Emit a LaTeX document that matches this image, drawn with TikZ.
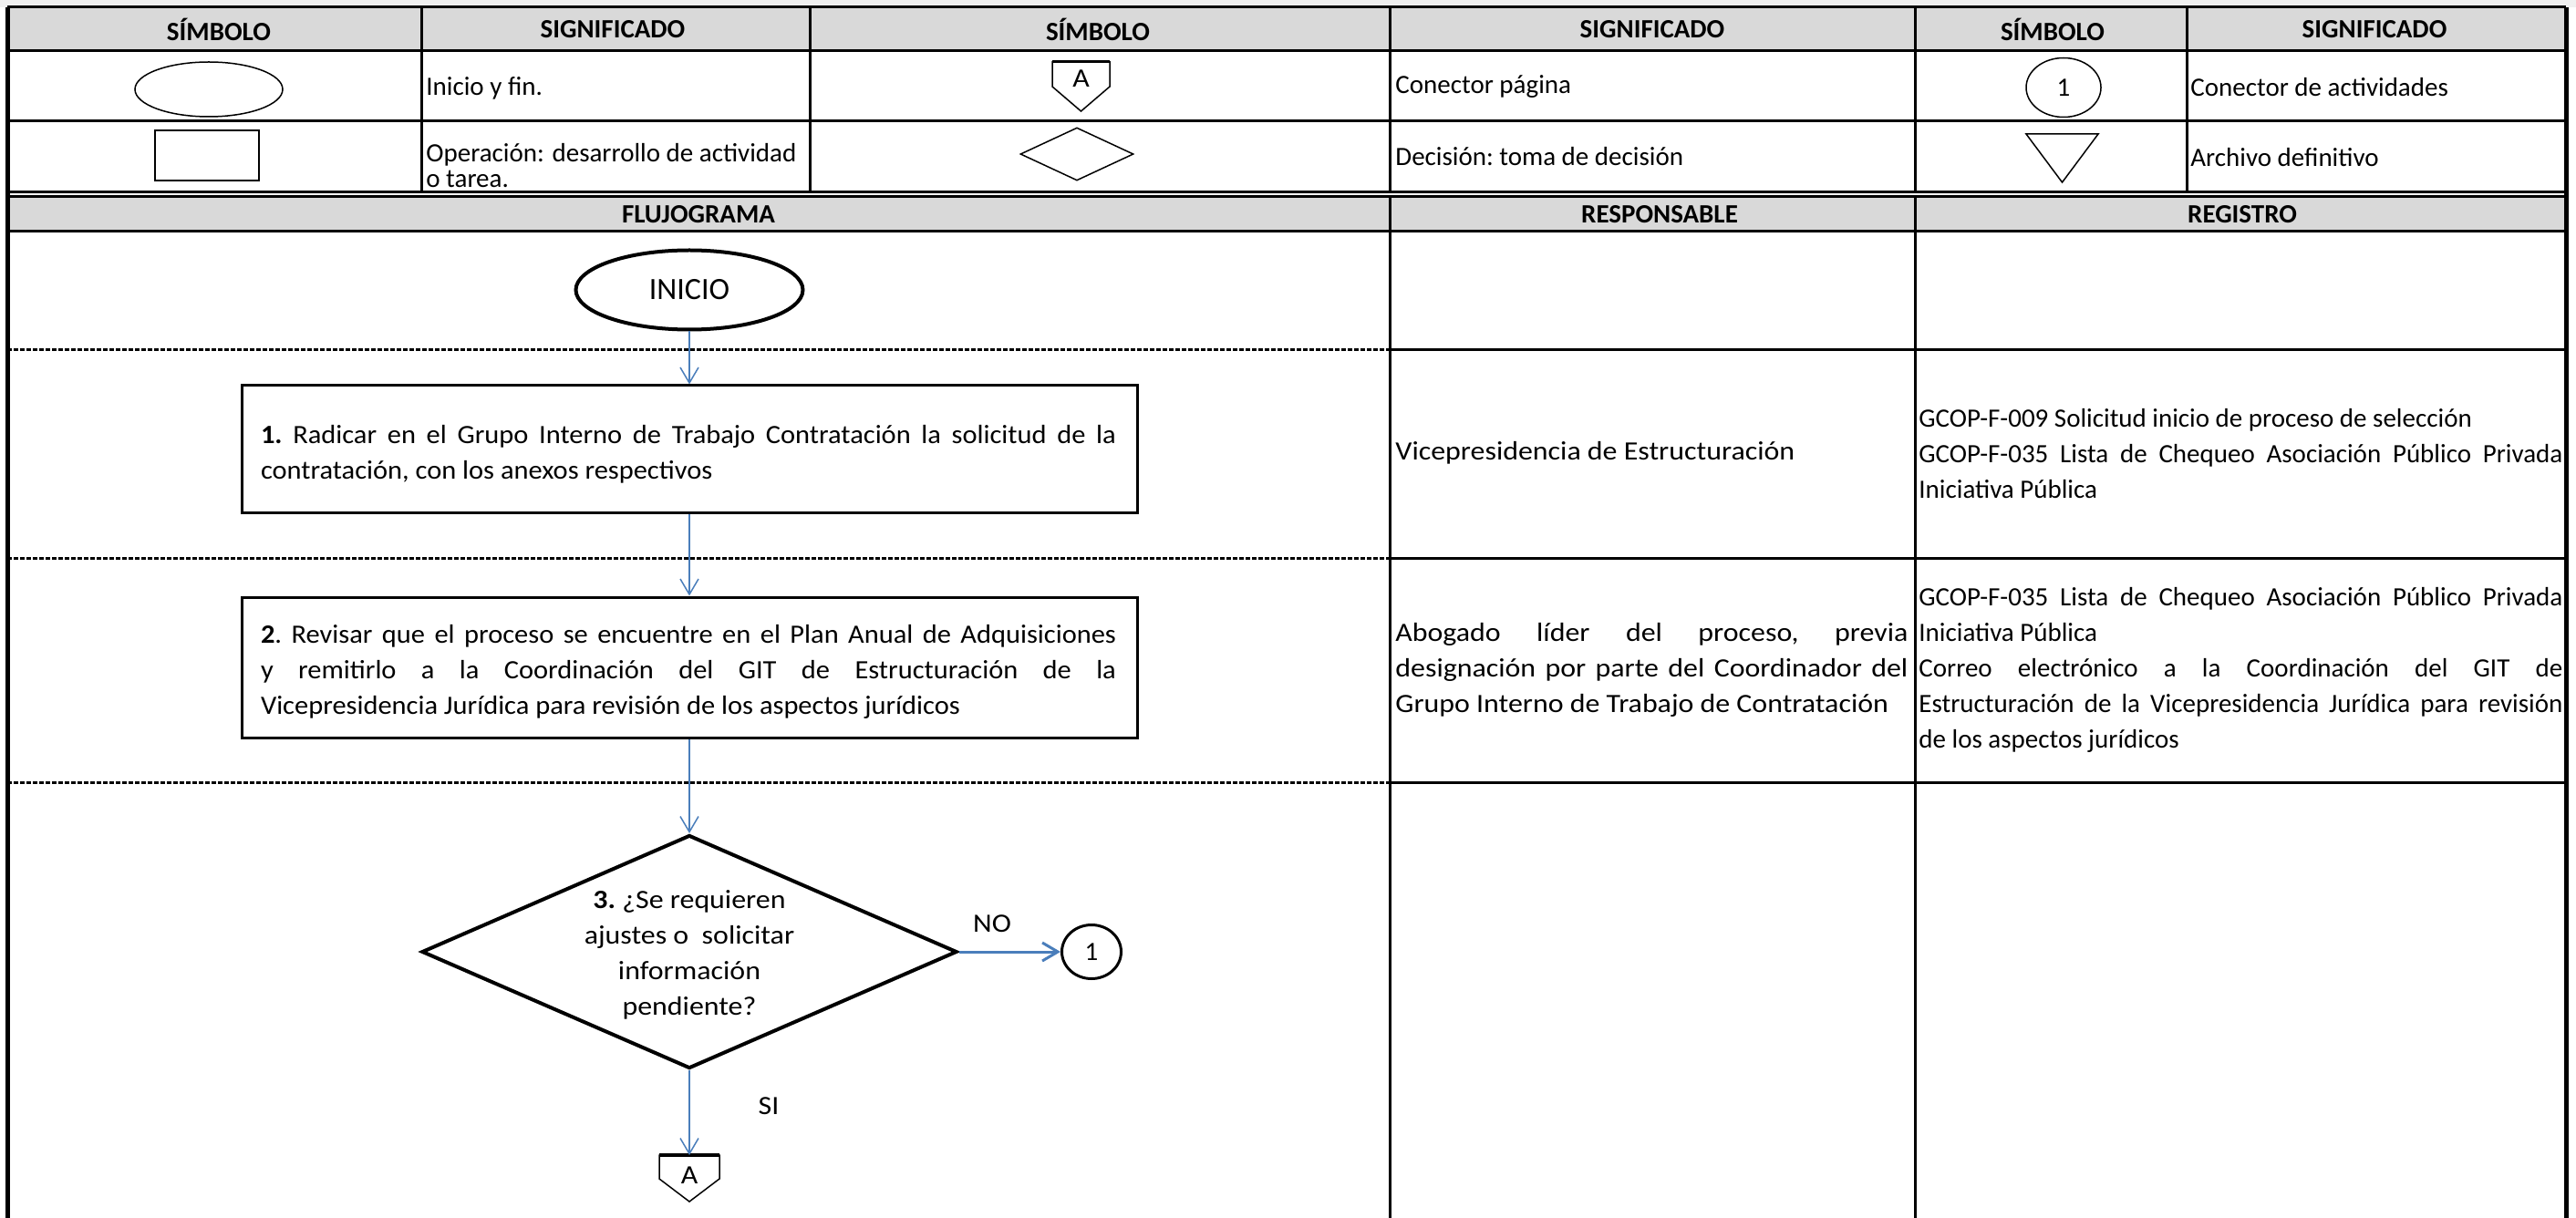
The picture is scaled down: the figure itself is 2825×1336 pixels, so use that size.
\documentclass[tikz,border=0pt]{standalone}
\usepackage{fontspec}
\setmainfont{Carlito}
\newfontfamily\widefam{Carlito}[FakeStretch=1.1]
\newfontfamily\midfam{Carlito}[FakeStretch=1.05]
\usetikzlibrary{arrows.meta,shapes.geometric}
\definecolor{hdr}{RGB}{217,217,217}
\definecolor{arr}{RGB}{74,126,187}
\definecolor{topgray}{RGB}{240,240,240}
\newcommand\bodyfont{\fontsize{14.5}{19.5}\selectfont\frenchspacing}
\newcommand\widefont{\widefam\fontsize{14.5}{19.5}\selectfont\frenchspacing}
\newcommand\midfont{\midfam\fontsize{14.5}{19.5}\selectfont\frenchspacing}
\newcommand\hdrfont{\fontsize{14.5}{16}\selectfont\bfseries}
\newcommand\jl[2]{\makebox[#1][s]{#2}}
\begin{document}
\begin{tikzpicture}[x=0.5pt,y=-0.5pt,
  gridline/.style={line width=1.5pt},
  outerline/.style={line width=2.5pt},
  dashsep/.style={line width=1.5pt, dash pattern=on 2.5pt off 1pt},
  hdrtxt/.style={font=\hdrfont, inner sep=0},
  celltxt/.style={font=\bodyfont, inner sep=0, align=left, anchor=west},
  flowbox/.style={draw, line width=1.5pt},
  conn/.style={draw=arr, line width=0.75pt, -{Straight Barb[length=8.5pt,width=10pt]}},
  sym/.style={draw, line width=0.75pt, inner sep=0},
  lbl/.style={font=\widefont, inner sep=0},
]
\useasboundingbox (0,0) rectangle (2825,1336);
% backgrounds
\fill[white] (0,0) rectangle (2825,1336);
\fill[topgray] (0,0) rectangle (2825,8);
\fill[hdr] (8,8) rectangle (2814,56);
\fill[hdr] (8,216) rectangle (2814,254);
% grid
\draw[gridline] (8,8) -- (2814,8);
\foreach \y in {56,133,211,216,254} \draw[gridline] (8,\y) -- (2814,\y);
\foreach \x in {462,888,1524,2100,2398} \draw[gridline] (\x,8) -- (\x,211);
\foreach \x in {1524,2100} \draw[gridline] (\x,216) -- (\x,1336);
\foreach \y in {384,612,858} {
  \draw[dashsep] (8,\y) -- (1524,\y);
  \draw[gridline] (1524,\y) -- (2814,\y);
}
\draw[outerline] (8,8) -- (8,1336);
\draw[outerline] (2814,8) -- (2814,1336);
% header labels
\node[hdrtxt] (h1) at (240,32) {SÍMBOLO};
\node[hdrtxt] (h2) at (672,32) {SIGNIFICADO};
\node[hdrtxt] (h3) at (1204,32) {SÍMBOLO};
\node[hdrtxt] (h4) at (1812,32) {SIGNIFICADO};
\node[hdrtxt] (h5) at (2251,32) {SÍMBOLO};
\node[hdrtxt] (h6) at (2604,32) {SIGNIFICADO};
\node[hdrtxt] (h7) at (766,235) {FLUJOGRAMA};
\node[hdrtxt] (h8) at (1820,235) {RESPONSABLE};
\node[hdrtxt] (h9) at (2459,235) {REGISTRO};
% legend
\node[sym, ellipse, minimum width=81pt, minimum height=30pt] (lell) at (229,98) {};
\node[celltxt] (t1) at (467,97) {Inicio y fin.};
\node[sym, rectangle, minimum width=57pt, minimum height=27.5pt] (lrect) at (227,170.5) {};
\node[celltxt, font=\fontsize{14.5}{14}\selectfont] (t2) at (467,182) {Operación: desarrollo de actividad\\o tarea.};
\draw[line width=0.75pt] (1154,68) -- (1217,68) -- (1217,95) -- (1185.5,122) -- (1154,95) -- cycle;
\draw[line width=1.5pt] (1154,68) -- (1217,68);
\node[lbl] (lA) at (1185.5,86) {A};
\node[celltxt] (t3) at (1530,95) {Conector página};
\node[sym, diamond, minimum width=62pt, minimum height=29pt] (ldia) at (1181,169) {};
\node[celltxt] (t4) at (1530,172) {Decisión: toma de decisión};
\node[sym, ellipse, minimum width=41pt, minimum height=32.5pt, font=\bodyfont] (lcirc) at (2263,96) {1};
\node[celltxt] (t5) at (2402,96) {Conector de actividades};
\draw[line width=0.75pt] (2222,147) -- (2301,147) -- (2261.5,200) -- cycle;
\node[celltxt] (t6) at (2402,173) {Archivo definitivo};
% flowchart
\node[flowbox, ellipse, line width=2pt, minimum width=124.5pt, minimum height=43.5pt, inner sep=0, font=\fontsize{17}{20}\selectfont] (ini) at (756,318) {INICIO};
\node[flowbox, rectangle, minimum width=491pt, minimum height=69.5pt, inner sep=0] (b1) at (756,492.5) {};
\node[font=\midfont, align=left, inner sep=0] (b1t) at (755,498.5)
 {\jl{469pt}{\textbf{1.} Radicar en el Grupo Interno de Trabajo Contratación la solicitud de la}\\
  contratación, con los anexos respectivos};
\node[flowbox, rectangle, minimum width=491pt, minimum height=77pt, inner sep=0] (b2) at (756,732) {};
\node[font=\midfont, align=left, inner sep=0] (b2t) at (755,736.5)
 {\jl{469pt}{\textbf{2}. Revisar que el proceso se encuentre en el Plan Anual de Adquisiciones}\\
  \jl{469pt}{y remitirlo a la Coordinación del GIT de Estructuración de la}\\
  Vicepresidencia Jurídica para revisión de los aspectos jurídicos};
\node[flowbox, diamond, line width=2pt, minimum width=293.5pt, minimum height=128pt, inner sep=0] (dia) at (756,1044) {};
\node[lbl, align=center] (diat) at (756,1047) {\textbf{3.} ¿Se requieren\\ajustes o\ \ solicitar\\información\\pendiente?};
\node[flowbox, ellipse, minimum width=32.5pt, minimum height=29.5pt, inner sep=0, font=\bodyfont] (c1) at (1197,1044) {1};
\coordinate (Atop) at (756,1267);
\draw[line width=0.75pt] (723,1267) -- (789,1267) -- (789,1293) -- (756,1318) -- (723,1293) -- cycle;
\draw[line width=2pt] (723,1267) -- (789,1267);
\node[lbl] (Atxt) at (756,1289) {A};
\node[lbl] (no) at (1088,1013) {NO};
\node[lbl] (si) at (843,1213) {SI};
% connectors
\draw[conn] (ini.south) -- (b1.north);
\draw[conn] (b1.south) -- (b2.north);
\draw[conn] (b2.south) -- (dia.north);
\draw[conn, line width=1.5pt] (dia.east) -- (c1.west);
\draw[conn] (dia.south) -- (Atop);
% cells
\node[celltxt, font=\widefont] (r1) at (1530,497) {Vicepresidencia de Estructuración};
\node[celltxt] (g1) at (2104,498) {GCOP-F-009 Solicitud inicio de proceso de selección\\
  \jl{353pt}{GCOP-F-035 Lista de Chequeo Asociación Público Privada}\\
  Iniciativa Pública};
\node[celltxt, font=\widefont] (r2) at (1530,735) {\jl{281pt}{Abogado líder del proceso, previa}\\
  \jl{281pt}{designación por parte del Coordinador del}\\
  Grupo Interno de Trabajo de Contratación};
\node[celltxt] (g2) at (2104,735) {\jl{353pt}{GCOP-F-035 Lista de Chequeo Asociación Público Privada}\\
  Iniciativa Pública\\
  \jl{353pt}{Correo electrónico a la Coordinación del GIT de}\\
  \jl{353pt}{Estructuración de la Vicepresidencia Jurídica para revisión}\\
  de los aspectos jurídicos};
\end{tikzpicture}
\end{document}
